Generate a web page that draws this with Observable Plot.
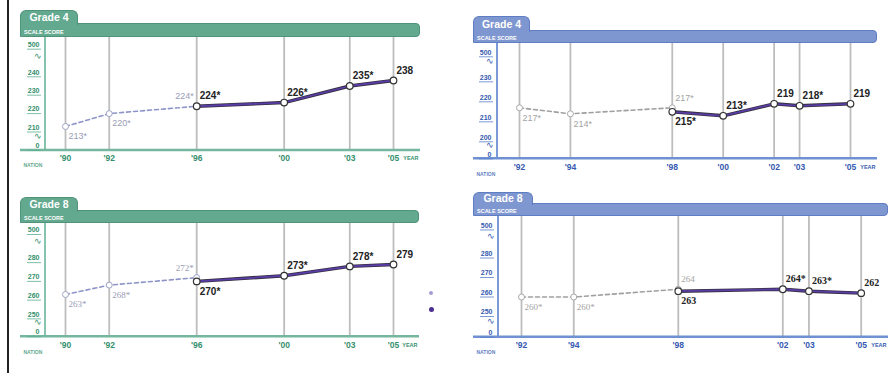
<!DOCTYPE html>
<html><head><meta charset="utf-8">
<script src="https://cdn.jsdelivr.net/npm/d3@7"></script>
<script src="https://cdn.jsdelivr.net/npm/@observablehq/plot@0.6"></script>
<style>
html,body{margin:0;padding:0;background:#fff;}
#chart{position:relative;width:896px;height:373px;overflow:hidden;background:#fff;font-family:"Liberation Sans",Arial,sans-serif;}
.border{position:absolute;left:7px;top:0;width:2px;height:373px;background:#222;}
.tab{position:absolute;border-radius:6px 6px 0 0;color:#fff;font-weight:bold;font-size:10.5px;text-align:center;box-sizing:border-box;border-bottom:none;z-index:2;}
.band{position:absolute;border-radius:0 4px 4px 0;box-sizing:border-box;z-index:1;}
.band span{position:absolute;left:3px;bottom:1px;font-size:5.5px;font-weight:bold;color:#fff;line-height:6px;white-space:nowrap;}
.plot{position:absolute;z-index:0;}
.plot svg{overflow:visible;}
.ldot{position:absolute;border-radius:50%;}
</style></head><body><div id="chart"><div class="border"></div></div>
<script>
// ---------- DATA ----------
// Mathematics, grade 4 (A = accommodations not permitted, B = accommodations permitted)
const mathG4YearsA = [1990, 1992, 1996];
const mathG4ScoresA = [213, 220, 224];
const mathG4SigA = [true, true, true];
const mathG4YearsB = [1996, 2000, 2003, 2005];
const mathG4ScoresB = [224, 226, 235, 238];
const mathG4SigB = [true, true, true, false];
const mathG4XTicks = [1990, 1992, 1996, 2000, 2003, 2005];
const mathG4XTickLabels = ["'90", "'92", "'96", "'00", "'03", "'05"];
const mathG4YTicks = [200, 210, 220, 230, 240, 255];
const mathG4YTickLabels = ["0", "210", "220", "230", "240", "500"];
const mathG4Breaks = [207.5, 251.5];

// Mathematics, grade 8
const mathG8YearsA = [1990, 1992, 1996];
const mathG8ScoresA = [263, 268, 272];
const mathG8SigA = [true, true, true];
const mathG8YearsB = [1996, 2000, 2003, 2005];
const mathG8ScoresB = [270, 273, 278, 279];
const mathG8SigB = [true, true, true, false];
const mathG8XTicks = [1990, 1992, 1996, 2000, 2003, 2005];
const mathG8XTickLabels = ["'90", "'92", "'96", "'00", "'03", "'05"];
const mathG8YTicks = [240.5, 250, 260, 270, 280, 295];
const mathG8YTickLabels = ["0", "250", "260", "270", "280", "500"];
const mathG8Breaks = [248.5, 291.5];

// Reading, grade 4
const readG4YearsA = [1992, 1994, 1998];
const readG4ScoresA = [217, 214, 217];
const readG4SigA = [true, true, true];
const readG4YearsB = [1998, 2000, 2002, 2003, 2005];
const readG4ScoresB = [215, 213, 219, 218, 219];
const readG4SigB = [true, true, false, true, false];
const readG4XTicks = [1992, 1994, 1998, 2000, 2002, 2003, 2005];
const readG4XTickLabels = ["'92", "'94", "'98", "'00", "'02", "'03", "'05"];
const readG4YTicks = [191.5, 200, 210, 220, 230, 242.5];
const readG4YTickLabels = ["0", "200", "210", "220", "230", "500"];
const readG4Breaks = [198.2, 240.2];

// Reading, grade 8
const readG8YearsA = [1992, 1994, 1998];
const readG8ScoresA = [260, 260, 264];
const readG8SigA = [true, true, false];
const readG8YearsB = [1998, 2002, 2003, 2005];
const readG8ScoresB = [263, 264, 263, 262];
const readG8SigB = [false, true, true, false];
const readG8XTicks = [1992, 1994, 1998, 2002, 2003, 2005];
const readG8XTickLabels = ["'92", "'94", "'98", "'02", "'03", "'05"];
const readG8YTicks = [239.4, 250, 260, 270, 280, 294.4];
const readG8YTickLabels = ["0", "250", "260", "270", "280", "500"];
const readG8Breaks = [247.5, 291];

// ---------- STYLE ----------
const green = {band: "#62a98f", border: "#4f9479", axis: "#86c4ae", base: "#74b79e", text: "#358f6d", tick: "#5aae90",
  dash: "#8d94c8", grayLabel: "#9a9cb6", grayDot: "#9ea3c4"};
const blue = {band: "#7f97d0", border: "#5f7dc2", axis: "#7b9ad8", base: "#6f90d2", text: "#3559b0", tick: "#5a7fcc",
  dash: "#a0a0a0", grayLabel: "#a3a3a3", grayDot: "#a8a8a8"};
const SANS = '"Liberation Sans", Arial, sans-serif';
const SERIF = '"Liberation Serif", "Times New Roman", serif';

const panels = [
  {grade: "Grade 4", theme: green, left: 20, tabTop: 10, tabW: 58, bandTop: 23, bandH: 14, width: 400, height: 136, marginLeft: 25,
   xDomain: [1990, 2005], xRange: [45, 373], yDomain: [200, 255], yRange: [112.9, 11.7],
   yearsA: mathG4YearsA, scoresA: mathG4ScoresA, sigA: mathG4SigA, yearsB: mathG4YearsB, scoresB: mathG4ScoresB, sigB: mathG4SigB,
   xTicks: mathG4XTicks, xTickLabels: mathG4XTickLabels, yTicks: mathG4YTicks, yTickLabels: mathG4YTickLabels, breaks: mathG4Breaks,
   placeA: ["br", "br", "al"], placeB: ["ar", "ar", "ar", "ar"], fontA: SANS, fontB: SANS, foot: "NATION"},
  {grade: "Grade 4", theme: blue, left: 473, tabTop: 16, tabW: 57, bandTop: 30, bandH: 13, width: 404, height: 140, marginLeft: 24,
   xDomain: [1992, 2005], xRange: [46, 377], yDomain: [191.5, 242.5], yRange: [115.3, 13.3],
   yearsA: readG4YearsA, scoresA: readG4ScoresA, sigA: readG4SigA, yearsB: readG4YearsB, scoresB: readG4ScoresB, sigB: readG4SigB,
   xTicks: readG4XTicks, xTickLabels: readG4XTickLabels, yTicks: readG4YTicks, yTickLabels: readG4YTickLabels, breaks: readG4Breaks,
   placeA: ["br", "br", "ar"], placeB: ["br", "ar", "ar", "ar", "ar"], fontA: SANS, fontB: SANS, foot: "NATION"},
  {grade: "Grade 8", theme: green, left: 20, tabTop: 197, tabW: 58, bandTop: 210, bandH: 13, width: 399, height: 136, marginLeft: 25,
   xDomain: [1990, 2005], xRange: [45, 373], yDomain: [240.5, 295], yRange: [113.2, 11],
   yearsA: mathG8YearsA, scoresA: mathG8ScoresA, sigA: mathG8SigA, yearsB: mathG8YearsB, scoresB: mathG8ScoresB, sigB: mathG8SigB,
   xTicks: mathG8XTicks, xTickLabels: mathG8XTickLabels, yTicks: mathG8YTicks, yTickLabels: mathG8YTickLabels, breaks: mathG8Breaks,
   placeA: ["br", "br", "al"], placeB: ["br", "ar", "ar", "ar"], fontA: SERIF, fontB: SANS, foot: "NATION"},
  {grade: "Grade 8", theme: blue, left: 473, tabTop: 192, tabW: 60, bandTop: 203, bandH: 13, width: 415, height: 150, marginLeft: 25,
   xDomain: [1992, 2005], xRange: [48, 387.7], yDomain: [239.4, 294.4], yRange: [120.7, 13.45],
   yearsA: readG8YearsA, scoresA: readG8ScoresA, sigA: readG8SigA, yearsB: readG8YearsB, scoresB: readG8ScoresB, sigB: readG8SigB,
   xTicks: readG8XTicks, xTickLabels: readG8XTickLabels, yTicks: readG8YTicks, yTickLabels: readG8YTickLabels, breaks: readG8Breaks,
   placeA: ["br", "br", "ar"], placeB: ["br", "ar", "ar", "ar"], fontA: SERIF, fontB: SERIF, foot: "NATION"}
];

const placeSpec = {
  ar: {textAnchor: "start", dx: 3, dy: -10},
  br: {textAnchor: "start", dx: 3, dy: 10},
  al: {textAnchor: "end", dx: -3, dy: -10}
};

function axisFrame(theme) {
  return (index, scales, values, dimensions) => {
    const {width, height, marginLeft, marginTop, marginBottom} = dimensions;
    const yb = height - marginBottom;
    const g = d3.create("svg:g");
    g.append("line").attr("x1", marginLeft).attr("x2", marginLeft).attr("y1", marginTop).attr("y2", yb)
      .attr("stroke", theme.axis).attr("stroke-width", 2);
    g.append("line").attr("x1", 0).attr("x2", width).attr("y1", yb).attr("y2", yb)
      .attr("stroke", theme.base).attr("stroke-width", 2.5);
    return g.node();
  };
}

function labelMarks(data, place, opts) {
  return Object.keys(placeSpec).map(k => Plot.text(data.filter((d, i) => place[i] === k),
    {x: "year", y: "score", text: "label", lineAnchor: "middle", ...placeSpec[k], ...opts}));
}

function makePanel(c) {
  const chart = document.getElementById("chart");
  const t = c.theme;
  const band = document.createElement("div");
  band.className = "band";
  Object.assign(band.style, {left: c.left + "px", top: c.bandTop + "px", width: c.width + "px", height: c.bandH + "px",
    background: t.band, border: "1px solid " + t.border});
  const sp = document.createElement("span"); sp.textContent = "SCALE SCORE"; band.appendChild(sp);
  chart.appendChild(band);
  const tab = document.createElement("div");
  tab.className = "tab";
  Object.assign(tab.style, {left: c.left + "px", top: c.tabTop + "px", width: c.tabW + "px", height: (c.bandTop - c.tabTop + 2) + "px",
    lineHeight: (c.bandTop - c.tabTop) + "px", background: t.band, borderTop: "1px solid " + t.border,
    borderLeft: "1px solid " + t.border, borderRight: "1px solid " + t.border});
  tab.textContent = c.grade;
  chart.appendChild(tab);

  const dataA = c.yearsA.map((year, i) => ({year, score: c.scoresA[i], label: c.scoresA[i] + (c.sigA[i] ? "*" : "")}));
  const dataB = c.yearsB.map((year, i) => ({year, score: c.scoresB[i], label: c.scoresB[i] + (c.sigB[i] ? "*" : "")}));
  const yLab = new Map(c.yTicks.map((v, i) => [v, c.yTickLabels[i]]));
  const xLab = new Map(c.xTicks.map((v, i) => [v, c.xTickLabels[i]]));
  const marginBottom = c.height - c.yRange[0];

  const plot = Plot.plot({
    width: c.width, height: c.height,
    marginLeft: c.marginLeft, marginRight: 0, marginTop: 0, marginBottom,
    x: {type: "linear", domain: c.xDomain, range: c.xRange, label: null},
    y: {type: "linear", domain: c.yDomain, range: c.yRange, label: null},
    style: {background: "transparent", fontFamily: SANS, overflow: "visible"},
    marks: [
      Plot.ruleX(c.xTicks, {x: d => d, stroke: "#bdbdbd", strokeWidth: 1.8}),
      axisFrame(t),
      Plot.axisY(c.yTicks, {anchor: "left", tickSize: 14, dx: -4, stroke: t.tick, strokeWidth: 0.8, fill: "none",
        tickFormat: () => "", label: null}),
      Plot.axisY(c.yTicks, {anchor: "left", tickSize: 0, tickPadding: 6, dy: -4.5, fill: t.text, fontSize: 7,
        fontWeight: "bold", tickFormat: d => yLab.get(d), label: null}),
      Plot.text(c.breaks, {y: d => d, text: () => "\u223F", frameAnchor: "left", dx: -12, fill: t.text, fontSize: 9}),
      Plot.line(dataA, {x: "year", y: "score", stroke: t.dash, strokeWidth: 1.6, strokeDasharray: "4,3"}),
      Plot.line(dataB, {x: "year", y: "score", stroke: "#34313f", strokeWidth: 3.4}),
      Plot.line(dataB, {x: "year", y: "score", stroke: "#5a3ca6", strokeWidth: 1.8}),
      Plot.dot(dataA, {x: "year", y: "score", r: 3, fill: "#fff", stroke: t.grayDot, strokeWidth: 1}),
      Plot.dot(dataB, {x: "year", y: "score", r: 3.3, fill: "#fff", stroke: "#333", strokeWidth: 1.2}),
      ...labelMarks(dataA, c.placeA, {fill: t.grayLabel, fontSize: 9, fontFamily: c.fontA}),
      ...labelMarks(dataB, c.placeB, {fill: "#222", fontSize: 10, fontWeight: "bold", fontFamily: c.fontB}),
      Plot.axisX(c.xTicks, {anchor: "bottom", tickSize: 0, tickPadding: 5, fill: t.text, fontSize: 8.5, fontWeight: "bold",
        tickFormat: d => xLab.get(d), label: null}),
      Plot.text(["YEAR"], {text: d => d, frameAnchor: "bottom-right", dx: -2, dy: 10, textAnchor: "end",
        fontSize: 5.5, fontWeight: "bold", fill: t.text}),
      Plot.text([c.foot], {text: d => d, frameAnchor: "bottom-left", dx: 3 - c.marginLeft, dy: 17, textAnchor: "start",
        fontSize: 5, fontWeight: "bold", fill: t.text, fillOpacity: 0.8})
    ]
  });
  const holder = document.createElement("div");
  holder.className = "plot";
  Object.assign(holder.style, {left: c.left + "px", top: (c.bandTop + c.bandH) + "px"});
  holder.appendChild(plot);
  chart.appendChild(holder);
}

panels.forEach(makePanel);

// legend markers (partly visible legend at right of lower-left panel)
const legendDotColors = ["#a59dd0", "#4a2f8f"];
const legendDotTops = [291, 307];
legendDotColors.forEach((col, i) => {
  const d = document.createElement("div");
  d.className = "ldot";
  Object.assign(d.style, {left: "429px", top: legendDotTops[i] + "px", width: (4 + i) + "px", height: (4 + i) + "px", background: col});
  document.getElementById("chart").appendChild(d);
});
</script></body></html>
